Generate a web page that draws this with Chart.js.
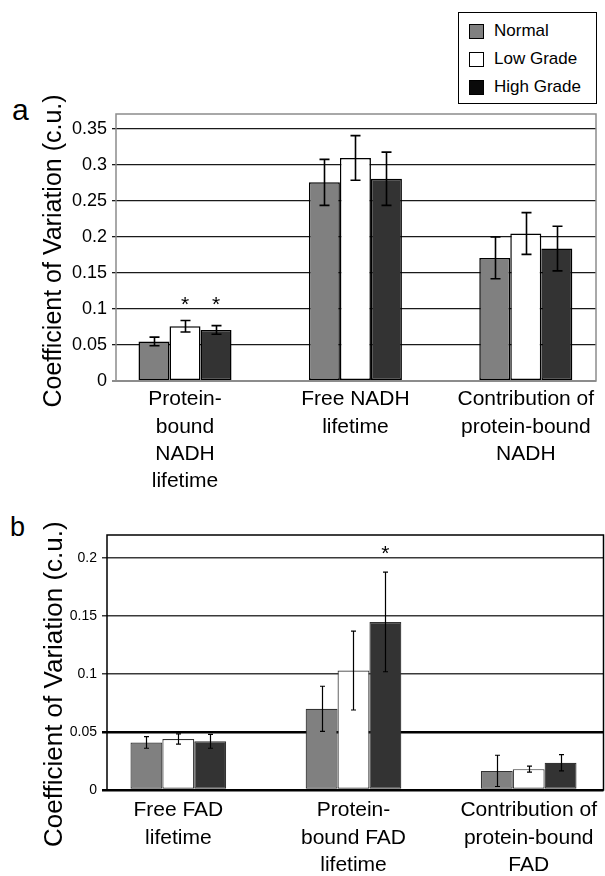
<!DOCTYPE html>
<html>
<head>
<meta charset="utf-8">
<script src="https://cdn.jsdelivr.net/npm/chart.js@4/dist/chart.umd.min.js"></script>
<style>
  body { margin: 0; width: 605px; height: 876px; overflow: hidden; position: relative; background: #fff;
         font-family: "Liberation Sans", Arial, Helvetica, sans-serif; color: #000; }
  canvas { position: absolute; left: 0; }
  .tag { position: absolute; line-height: 1; }
  #legend { position: absolute; left: 458px; top: 12px; width: 139px; height: 92px; box-sizing: border-box;
            border: 1px solid #000; background: #fff; z-index: 2; padding-top: 4px; }
  #legend .row { height: 28px; display: flex; align-items: center; font-size: 17px; }
  #legend .sw { width: 15px; height: 15px; box-sizing: border-box; border: 1px solid #000; margin: 0 10px 0 10px; }
</style>
</head>
<body>
<div id="legend"></div>
<div class="tag" style="left:12px;top:95px;font-size:30px;">a</div>
<div class="tag" style="left:10px;top:514px;font-size:27px;">b</div>
<canvas id="chartA" width="605" height="500" style="top:0"></canvas>
<canvas id="chartB" width="605" height="376" style="top:500px"></canvas>
<script>
const seriesNames = ["Normal", "Low Grade", "High Grade"];
const yTitle = "Coefficient of Variation (c.u.)";

// panel a: NADH
const nadhCategories = [["Protein-", "bound", "NADH", "lifetime"], ["Free NADH", "lifetime"], ["Contribution of", "protein-bound", "NADH"]];
const nadhNormal = [0.055, 0.276, 0.171];
const nadhLow = [0.076, 0.310, 0.205];
const nadhHigh = [0.071, 0.281, 0.184];
const nadhNormalErr = [0.006, 0.032, 0.029];
const nadhLowErr = [0.008, 0.031, 0.029];
const nadhHighErr = [0.006, 0.037, 0.031];
const nadhTicks = [0, 0.05, 0.1, 0.15, 0.2, 0.25, 0.3, 0.35];
const nadhStars = [[0, 1], [0, 2]]; // [category, series]

// panel b: FAD
const fadCategories = [["Free FAD", "lifetime"], ["Protein-", "bound FAD", "lifetime"], ["Contribution of", "protein-bound", "FAD"]];
const fadNormal = [0.041, 0.070, 0.0165];
const fadLow = [0.044, 0.103, 0.018];
const fadHigh = [0.042, 0.145, 0.0235];
const fadNormalErr = [0.005, 0.0195, 0.0135];
const fadLowErr = [0.0045, 0.034, 0.0026];
const fadHighErr = [0.006, 0.043, 0.007];
const fadTicks = [0, 0.05, 0.1, 0.15, 0.2];
const fadStars = [[1, 2]];

const barFills = ["#808080", "#ffffff", "#333333"];
const legendFills = ["#808080", "#ffffff", "#0a0a0a"];

// legend
const legend = document.getElementById("legend");
seriesNames.forEach((name, i) => {
  const row = document.createElement("div");
  row.className = "row";
  row.innerHTML = `<span class="sw" style="background:${legendFills[i]}"></span><span>${name}</span>`;
  legend.appendChild(row);
});

const errorBars = {
  id: "errorBars",
  afterDatasetsDraw(chart, args, opts) {
    const { ctx, scales: { y } } = chart;
    ctx.save();
    ctx.strokeStyle = "#000";
    ctx.lineWidth = opts.width;
    chart.data.datasets.forEach((ds, di) => {
      chart.getDatasetMeta(di).data.forEach((bar, i) => {
        const v = ds.data[i].y, e = ds.errors[i];
        const top = y.getPixelForValue(v + e), bot = y.getPixelForValue(v - e);
        const x = Math.round(bar.x) + 0.5;
        ctx.beginPath();
        ctx.moveTo(x, top); ctx.lineTo(x, bot);
        ctx.moveTo(x - opts.cap / 2, top); ctx.lineTo(x + opts.cap / 2, top);
        ctx.moveTo(x - opts.cap / 2, bot); ctx.lineTo(x + opts.cap / 2, bot);
        ctx.stroke();
      });
    });
    ctx.restore();
  }
};

const stars = {
  id: "stars",
  afterDatasetsDraw(chart, args, opts) {
    const { ctx, scales: { y } } = chart;
    ctx.save();
    ctx.font = opts.size + "px 'Liberation Sans', Arial, sans-serif";
    ctx.textAlign = "center";
    ctx.textBaseline = "alphabetic";
    ctx.fillStyle = "#000";
    opts.marks.forEach(([cat, s]) => {
      const bar = chart.getDatasetMeta(s).data[cat];
      ctx.fillText("*", bar.x, y.getPixelForValue(opts.level) + opts.size * 0.58);
    });
    ctx.restore();
  }
};

const frame = {
  id: "frame",
  afterDraw(chart, args, opts) {
    const { ctx, chartArea: a } = chart;
    ctx.save();
    ctx.strokeStyle = opts.color;
    ctx.lineWidth = opts.width;
    ctx.strokeRect(a.left, a.top, a.right - a.left, a.bottom - a.top);
    ctx.restore();
  }
};

function buildChart(id, cfg) {
  const datasets = seriesNames.map((name, s) => ({
    label: name,
    data: cfg.categories.map((c, i) => ({ x: i, y: cfg.values[s][i] })),
    errors: cfg.errors[s],
    backgroundColor: barFills[s],
    borderColor: cfg.barBorder,
    borderWidth: cfg.barBorderWidth,
    borderSkipped: false,
    categoryPercentage: 0.546,
    barPercentage: 1
  }));

  return new Chart(document.getElementById(id), {
    type: "bar",
    data: { datasets },
    plugins: [errorBars, stars, frame],
    options: {
      responsive: false,
      animation: false,
      events: [],
      layout: { padding: cfg.padding },
      plugins: {
        legend: { display: false },
        tooltip: { enabled: false },
        errorBars: { width: cfg.errWidth, cap: cfg.cap },
        stars: { marks: cfg.stars, level: cfg.starLevel, size: 21 },
        frame: { color: cfg.frameColor, width: 1.5 }
      },
      scales: {
        x: {
          type: "linear",
          offset: false,
          min: cfg.xMin,
          max: cfg.xMax,
          afterBuildTicks: s => { s.ticks = cfg.categories.map((c, i) => ({ value: i })); },
          afterFit: s => { s.height = cfg.xHeight; },
          grid: { display: false, drawTicks: false },
          border: { display: false },
          ticks: {
            autoSkip: false, maxRotation: 0, minRotation: 0,
            padding: cfg.labelPad,
            color: "#000",
            font: { family: "'Liberation Sans', Arial, sans-serif", size: 21, lineHeight: 1.3 },
            callback: v => cfg.categories[v]
          }
        },
        y: {
          min: 0,
          max: cfg.yMax,
          afterBuildTicks: s => { s.ticks = cfg.ticks.map(v => ({ value: v })); },
          afterFit: s => { s.width = cfg.yWidth; },
          grid: {
            color: c => cfg.gridColor(c.tick.value),
            lineWidth: c => cfg.gridWidth(c.tick.value),
            tickLength: cfg.tickLen
          },
          border: { display: false },
          ticks: {
            padding: 5,
            color: "#000",
            font: { family: cfg.tickFamily, size: cfg.tickSize },
            callback: v => String(+v.toFixed(2))
          },
          title: {
            display: true,
            // trailing spaces nudge the rotated title downward to sit like the original
            text: yTitle + " ".repeat(cfg.titleNudge),
            color: "#000",
            padding: { top: 39, bottom: 0 },
            font: { family: "'Liberation Sans', Arial, sans-serif", size: cfg.titleSize }
          }
        }
      }
    }
  });
}

buildChart("chartA", {
  categories: nadhCategories,
  values: [nadhNormal, nadhLow, nadhHigh],
  errors: [nadhNormalErr, nadhLowErr, nadhHighErr],
  ticks: nadhTicks,
  stars: nadhStars,
  starLevel: 0.1147,
  yMax: 0.371,
  xMin: -0.405, xMax: 2.412,
  padding: { top: 114, right: 9, left: 0, bottom: 0 },
  yWidth: 116, xHeight: 119,
  labelPad: 5,
  barBorder: "#000", barBorderWidth: 1.5,
  errWidth: 1.6, cap: 10,
  frameColor: "#8c8c8c",
  gridColor: v => v === 0 ? "#8c8c8c" : "#1a1a1a",
  gridWidth: v => v === 0 ? 2 : 1.3,
  tickLen: 4,
  tickFamily: "'Liberation Sans Narrow', 'Liberation Sans', Arial, sans-serif",
  tickSize: 18,
  titleSize: 25,
  titleNudge: 1
});

buildChart("chartB", {
  categories: fadCategories,
  values: [fadNormal, fadLow, fadHigh],
  errors: [fadNormalErr, fadLowErr, fadHighErr],
  ticks: fadTicks,
  stars: fadStars,
  starLevel: 0.209,
  yMax: 0.22,
  xMin: -0.407, xMax: 2.427,
  padding: { top: 35, right: 1.5, left: 0, bottom: 0 },
  yWidth: 107, xHeight: 86,
  labelPad: 7,
  barBorder: "#333", barBorderWidth: 1.2,
  errWidth: 1.2, cap: 5,
  frameColor: "#000",
  gridColor: v => (v === 0 || v === 0.05) ? "#000" : "#3a3a3a",
  gridWidth: v => (v === 0 || v === 0.05) ? 2.5 : 1.5,
  tickLen: 5,
  tickFamily: "'Liberation Sans', Arial, sans-serif",
  tickSize: 14,
  titleSize: 26,
  titleNudge: 6
});
</script>
</body>
</html>
